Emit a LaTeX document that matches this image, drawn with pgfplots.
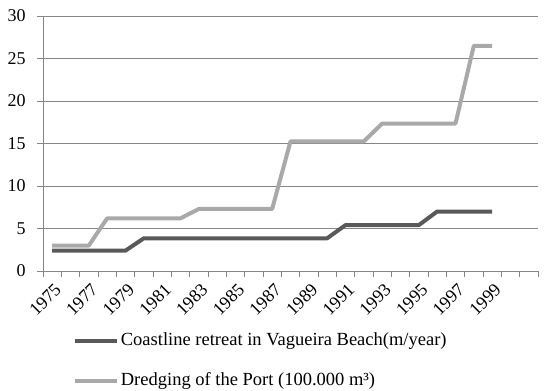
\documentclass[border=0pt]{standalone}
\usepackage{fontspec}
\setmainfont{Liberation Serif}
\usepackage{pgfplots}
\pgfplotsset{compat=1.18}
\definecolor{darkser}{HTML}{595959}
\definecolor{lightser}{HTML}{A9A9A9}
\definecolor{gridc}{HTML}{868686}
\begin{document}
\fontsize{18.5bp}{22bp}\selectfont
\begin{tikzpicture}
\begin{axis}[
  at={(0,0)}, anchor=south west,
  scale only axis, width=495bp, height=255bp,
  xmin=-0.5, xmax=26.5, ymin=0, ymax=30,
  ytick={0,5,...,30},
  minor ytick={0,5,...,30},
  xtick={0,2,...,24},
  xticklabels={1975,1977,1979,1981,1983,1985,1987,1989,1991,1993,1995,1997,1999},
  minor xtick={-0.5,0.5,...,26.5},
  axis x line*=bottom, axis y line*=left,
  axis line style={gridc, line width=1pt, -},
  ymajorgrids, major grid style={gridc, line width=1pt},
  major tick length=0pt,
  minor tick length=6bp,
  every tick/.style={gridc, line width=1pt},
  xtick align=outside, ytick align=outside,
  tick label style={font=\fontsize{18bp}{22bp}\selectfont},
  /pgf/number format/assume math mode=true,
  yticklabel style={xshift=-11bp},
  xticklabel style={xshift=1.5bp, yshift=-10bp, rotate=45, anchor=north east, inner sep=1bp},
  legend style={at={(0.06,-0.235)}, anchor=north west, draw=none, fill=none,
    font=\fontsize{18.5bp}{22bp}\selectfont, row sep=20bp, inner sep=0pt,
    /tikz/every even column/.append style={column sep=0pt}},
  legend cell align=left,
  legend image code/.code={\draw[#1] (0bp,0bp) -- (42bp,0bp);},
  line join=round,
]
\addplot[darkser, line width=4bp] coordinates {
(0,2.4) (1,2.4) (2,2.4) (3,2.4) (4,2.4) (5,3.85) (6,3.85) (7,3.85) (8,3.85) (9,3.85)
(10,3.85) (11,3.85) (12,3.85) (13,3.85) (14,3.85) (15,3.85) (16,5.4) (17,5.4) (18,5.4) (19,5.4)
(20,5.4) (21,7.0) (22,7.0) (23,7.0) (24,7.0)};
\addlegendentry{Coastline retreat in Vagueira Beach(m/year)}
\addplot[lightser, line width=4bp] coordinates {
(0,3.0) (1,3.0) (2,3.0) (3,6.2) (4,6.2) (5,6.2) (6,6.2) (7,6.2) (8,7.3) (9,7.3)
(10,7.3) (11,7.3) (12,7.3) (13,15.25) (14,15.25) (15,15.25) (16,15.25) (17,15.25) (18,17.35) (19,17.35)
(20,17.35) (21,17.35) (22,17.35) (23,26.5) (24,26.5)};
\addlegendentry{Dredging of the Port (100.000 m³)}
\end{axis}
\path[use as bounding box] (-43bp,-117bp) rectangle (507bp,271bp);
\end{tikzpicture}
\end{document}
